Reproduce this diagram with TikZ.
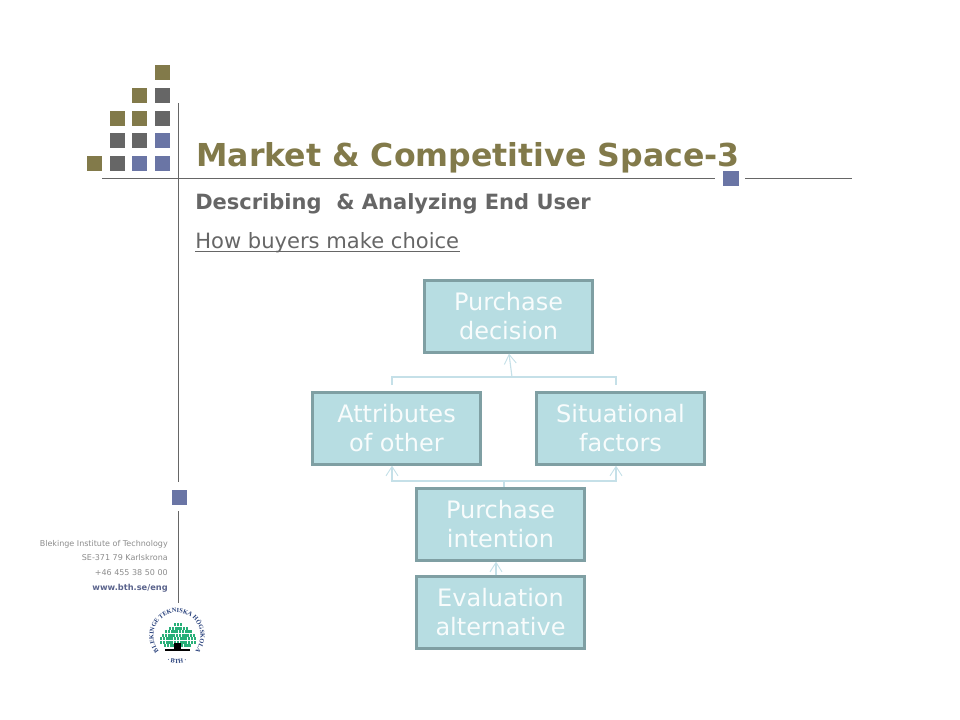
\documentclass[tikz,border=0pt]{standalone}
\usepackage{xcolor}
\usepackage{fontspec}
\setmainfont{DejaVu Sans}
\newfontfamily\logofont{Liberation Serif}
\usetikzlibrary{positioning,calc,arrows.meta,decorations.text}
\definecolor{btholive}{RGB}{130,122,74}
\definecolor{bthgray}{RGB}{102,102,102}
\definecolor{bthblue}{RGB}{106,117,165}
\definecolor{boxfill}{RGB}{183,221,226}
\definecolor{boxline}{RGB}{127,159,163}
\definecolor{linklight}{RGB}{197,224,232}
\definecolor{logoblue}{RGB}{35,60,120}
\definecolor{logogreen}{RGB}{40,175,120}
\tikzset{
  stepbox/.style={draw=boxline,line width=2.25pt,fill=boxfill,minimum width=125.5pt,minimum height=53.5pt,
    inner sep=0pt,align=center,text=white!90!boxfill,font=\fontsize{18}{21.75}\selectfont},
  link/.style={draw=linklight,line width=0.85pt},
  linkhead/.style={link,-{Straight Barb[length=7pt,width=9pt,line width=0.7pt]}},
  rule/.style={draw=bthgray,line width=0.75pt},
  footline/.style={anchor=east,inner sep=0pt,text=bthgray!75,font=\fontsize{6}{7}\selectfont},
}
\begin{document}
\begin{tikzpicture}[x=0.75pt,y=0.75pt,yscale=-1,xscale=1]
  \useasboundingbox (0,0) rectangle (960,720);

  % squares top left
  \foreach \sx/\sy/\scol in {155/65/btholive,132/88/btholive,155/88/bthgray,
      110/111/btholive,132/111/btholive,155/111/bthgray,
      110/133/bthgray,132/133/bthgray,155/133/bthblue,
      87/156/btholive,110/156/bthgray,132/156/bthblue,155/156/bthblue}
    \fill [\scol] (\sx,\sy) rectangle ++(15,15);

  % rules and their squares
  \draw [rule] (178.5,103) -- (178.5,482);
  \draw [rule] (178.5,511) -- (178.5,603);
  \draw [rule] (102,179) -- (715,179);
  \draw [rule] (745,179) -- (852,179);
  \fill [bthblue] (172,490) rectangle ++(15,15);
  \fill [bthblue] (723,171) rectangle ++(16,15);

  % Text Node
  \node (title) [anchor=west,inner sep=0pt,text=btholive,font=\fontsize{23.7}{28}\selectfont\bfseries] at (196,158) {Market \& Competitive Space-3};
  % Text Node
  \node (subtitle) [anchor=west,inner sep=0pt,text=bthgray,font=\fontsize{15.75}{18}\selectfont\bfseries] at (195,204) {Describing\ \ \& Analyzing End User};
  % Text Node
  \node (howbuyers) [anchor=west,inner sep=0pt,text=bthgray,font=\fontsize{15.8}{18}\selectfont] at (195,243) {How buyers make choice};
  \draw [bthgray,line width=0.75pt] (195,252) -- (460,252);

  % footer
  \node (foota) [footline] at (168,544) {Blekinge Institute of Technology};
  \node (footb) [footline] at (168,558) {SE-371 79 Karlskrona};
  \node (footc) [footline] at (168,573) {+46 455 38 50 00};
  \node (footd) [footline,text=bthblue!85!black,font=\fontsize{6.2}{7}\selectfont\bfseries] at (168,588) {www.bth.se/eng};

  % logo
  \foreach \ly/\lx/\ln in {623/174/3,626.5/169/7,630/165/10,633.5/162/12,637/160/13,640.5/160/13,644/164/10}
    \foreach \li in {1,...,\ln}
      \fill [logogreen] ({\lx+(\li-1)*2.8},\ly) rectangle ++(2.2,3);
  \fill (174,643) rectangle (181,649);
  \fill (165,649) rectangle (190,650.5);
  \path [postaction={decorate,decoration={text along path,text align=center,
      text={|\logofont\fontsize{4.7}{6}\selectfont\bfseries\color{logoblue}|BLEKINGE TEKNISKA HÖGSKOLA}}}]
      (161.9,654) arc [start angle=130,end angle=410,radius=23.5];
  \path [postaction={decorate,decoration={text along path,text align=center,
      text={|\logofont\fontsize{4.7}{5}\selectfont\bfseries\color{logoblue}|· BTH ·}}}]
      (161.2,658.5) arc [start angle=125,end angle=55,radius=27.5];

  % boxes
  \node (decision) [stepbox] at (508.5,316.5) {Purchase\\decision};
  \node (attributes) [stepbox] at (396.5,428.5) {Attributes\\of other};
  \node (situational) [stepbox] at (620.5,428.5) {Situational\\factors};
  \node (intention) [stepbox] at (500.5,524.5) {Purchase\\intention};
  \node (evaluation) [stepbox] at (500.5,612.5) {Evaluation\\alternative};

  % links
  \coordinate (upleft) at (392,385);
  \coordinate (upright) at (616,385);
  \coordinate (upjoin) at (512,377);
  \coordinate (lowjoin) at (504,481);
  \draw [link] (upleft) -- (392,377) -- (616,377) -- (upright);
  \draw [linkhead] (upjoin) -- (decision.south -| 509,0);
  \draw [link] (intention.north -| lowjoin) -- (lowjoin);
  \draw [linkhead] (lowjoin) -- (392,481) -- (attributes.south -| 392,0);
  \draw [linkhead] (lowjoin) -- (616,481) -- (situational.south -| 616,0);
  \draw [linkhead] (evaluation.north -| 496,0) -- (intention.south -| 496,0);
\end{tikzpicture}
\end{document}
